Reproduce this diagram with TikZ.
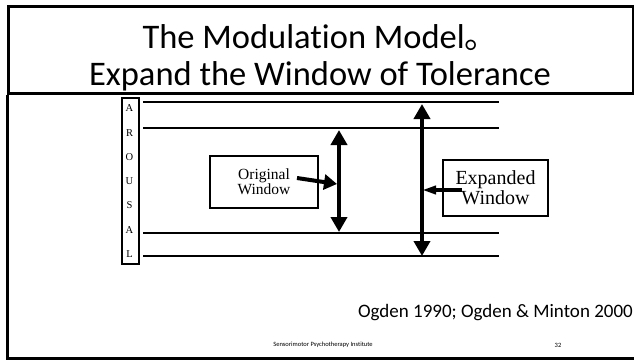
\documentclass[tikz,border=0pt]{standalone}
\usepackage{fontspec}
\setmainfont{Liberation Serif}
\newfontfamily\calibri[Ligatures=NoCommon]{Carlito}
\newfontfamily\cjk{Noto Sans CJK SC}
\usetikzlibrary{arrows.meta,positioning}

\tikzset{
  winbox/.style={draw,line width=2pt,align=center,inner sep=0pt},
  levelline/.style={line width=2pt},
  winspan/.style={line width=4pt,{Triangle[width=16pt,length=15pt]}-{Triangle[width=16pt,length=15pt]}},
  pointer/.style={line width=4pt,-{Triangle[width=15pt,length=13pt]}},
  titletext/.style={font=\calibri\fontsize{34.5}{38}\selectfont,anchor=base}
}

\begin{document}
\begin{tikzpicture}[x=1pt,y=-1pt]
  \useasboundingbox (0,0) rectangle (634,360);
  % slide frame
  \node[draw,line width=3pt,minimum width=625pt,minimum height=87pt,anchor=north west] (title) at (7,5) {};
  \node[titletext] (line1) at (321,48) {The Modulation Model{\cjk 。}};
  \node[titletext] (line2) at (320,85) {Expand the Window of Tolerance};
  \coordinate (bl) at (7,358);
  \coordinate (br) at (634,358);
  \draw[line width=3pt] (title.south west) -- (bl) -- (br);

  % arousal scale
  \node[draw,line width=2pt,minimum width=17pt,minimum height=166pt,anchor=north west] (scale) at (121,97) {};
  \foreach \ch [count=\i] in {A,R,O,U,S,A,L}
    \node[font=\fontsize{10.5}{12}\selectfont] (ch\i) at (129.5,84+24.3*\i) {\ch};

  % the four levels
  \foreach \nm/\yy in {hi/102,top/128,bot/233,lo/256}{
    \coordinate (\nm-l) at (143,\yy);
    \coordinate (\nm-r) at (499,\yy);
    \draw[levelline] (\nm-l) -- (\nm-r);
  }

  % windows
  \coordinate (o1) at (339,130);
  \coordinate (o2) at (339,232);
  \coordinate (e1) at (422,104);
  \coordinate (e2) at (422,256);
  \draw[winspan] (o1) -- (o2);
  \draw[winspan] (e1) -- (e2);

  \node[winbox,minimum width=108pt,minimum height=52pt,font=\fontsize{15.5}{15}\selectfont] (orig) at (264,182) {Original\\Window};
  \node[winbox,minimum width=105pt,minimum height=56pt,font=\fontsize{20}{20}\selectfont] (exp) at (495.5,188) {Expanded\\Window};

  \coordinate (ostart) at (297,178);
  \coordinate (otip) at (337,184);
  \coordinate (estart) at (462,190);
  \coordinate (etip) at (422,190);
  \draw[pointer] (ostart) -- (otip);
  \draw[line width=4pt,-{Triangle[width=8pt,length=14pt]}] (estart) -- (etip);

  % credits
  \node[font=\calibri\fontsize{19}{20}\selectfont,anchor=base east,inner sep=0pt] (cite) at (633,317) {Ogden 1990; Ogden \& Minton 2000};
  \node[font=\calibri\fontsize{6.5}{7}\selectfont] (inst) at (323,345) {Sensorimotor Psychotherapy Institute};
  \node[font=\calibri\fontsize{6.5}{7}\selectfont] (page) at (558,345) {32};
\end{tikzpicture}
\end{document}
